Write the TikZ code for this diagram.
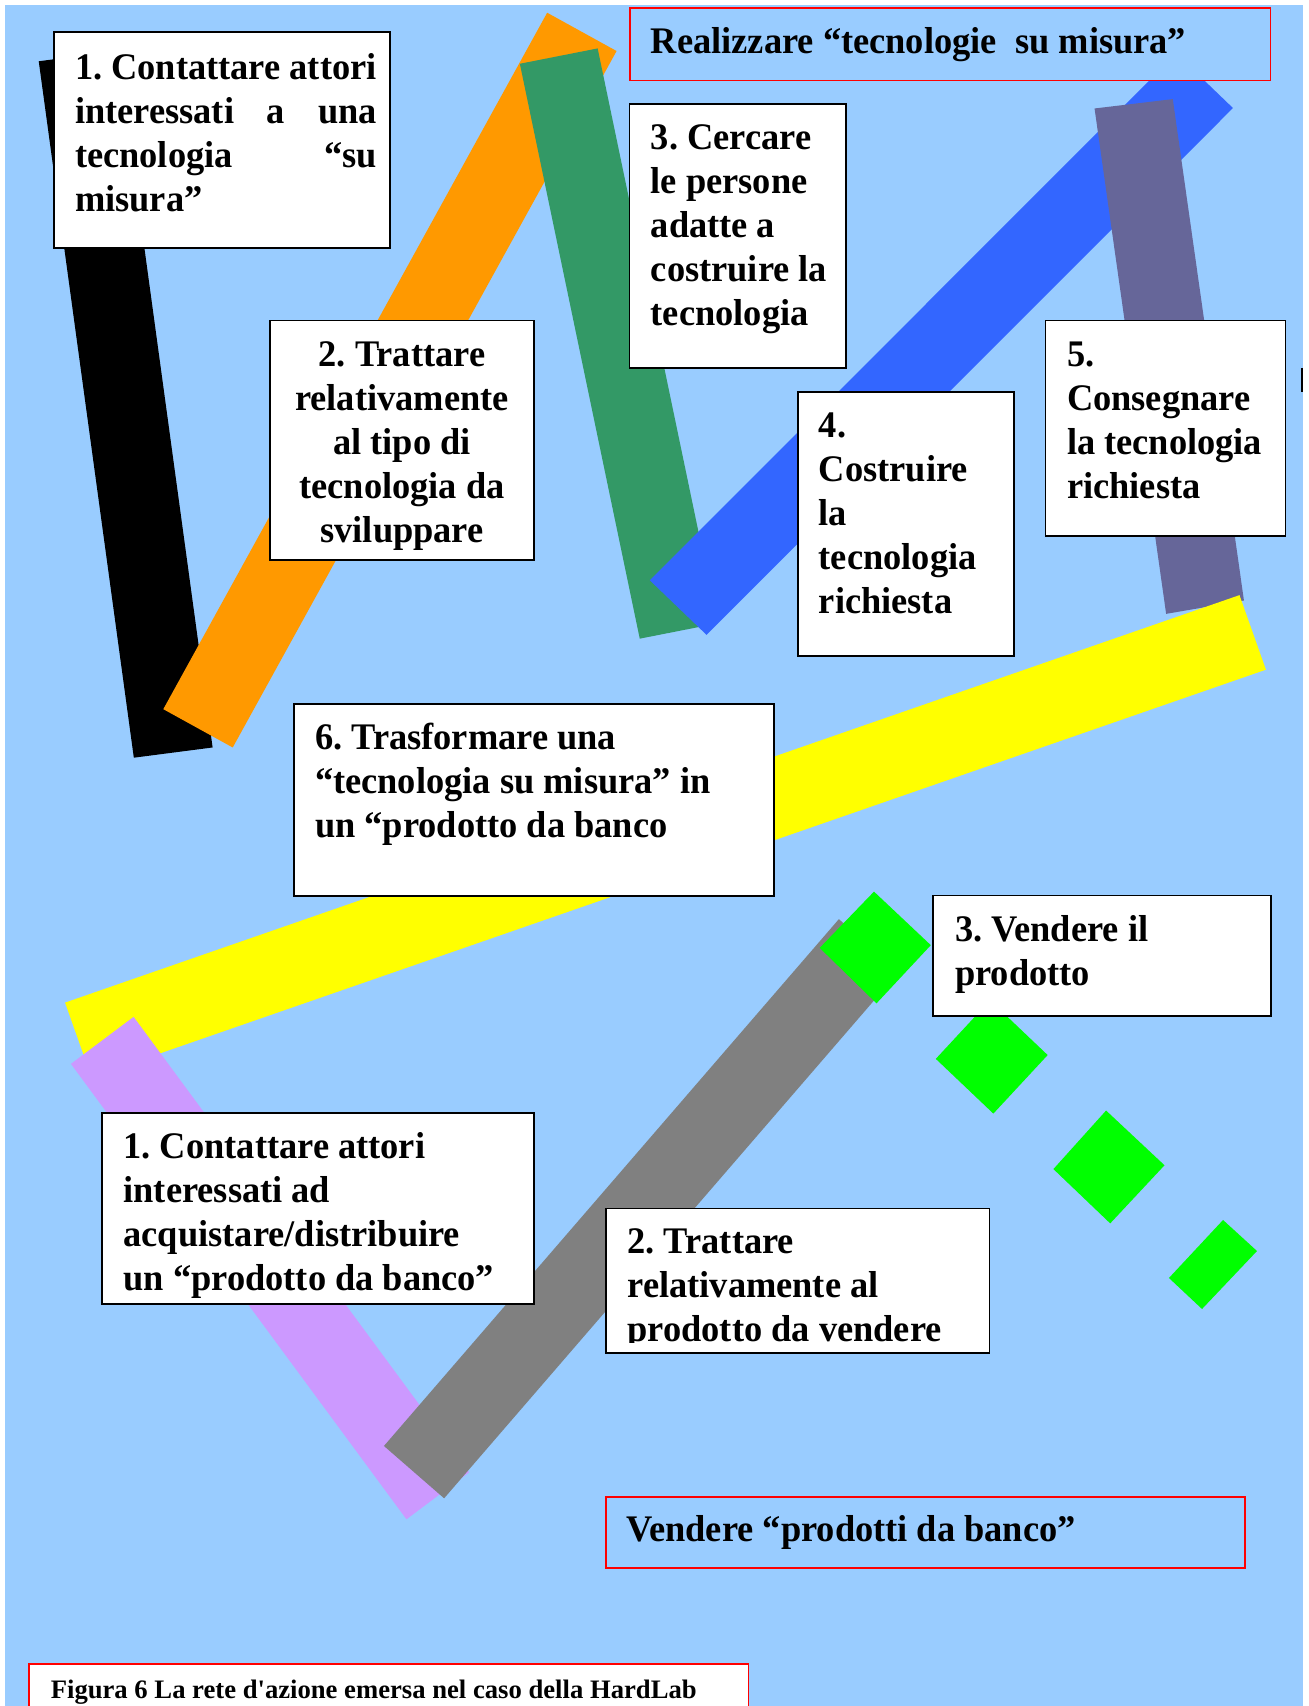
\documentclass[tikz,border=0pt]{standalone}
\usepackage{fontspec}
\setmainfont{Liberation Serif}
\newfontfamily\boxfam{Liberation Serif}[FakeStretch=0.97]
\font\capf="Liberation Serif/B" at 24.5pt
\definecolor{bgblue}{HTML}{99CCFF}
\definecolor{cblack}{HTML}{000000}
\definecolor{corange}{HTML}{FF9900}
\definecolor{cgreen}{HTML}{339966}
\definecolor{cblue}{HTML}{3366FF}
\definecolor{cslate}{HTML}{666699}
\definecolor{cyellow}{HTML}{FFFF00}
\definecolor{clilac}{HTML}{CC99FF}
\definecolor{cgray}{HTML}{808080}
\definecolor{clime}{HTML}{00FF00}
\definecolor{cred}{HTML}{FF0000}
\newcommand\lns[2][l]{\begin{tabular}[t]{@{}#1@{}}#2\end{tabular}}
\newlength\jw
\newcommand\js[1]{\makebox[\jw][s]{#1}}
\frenchspacing
\begin{document}
\begin{tikzpicture}[x=1pt,y=-1pt,
  wbox/.style={draw=black,line width=1.5pt,fill=white},
  rbox/.style={draw=cred,line width=1.6pt,fill=bgblue},
  capbox/.style={draw=cred,line width=1.6pt,fill=white},
  lbl/.style={inner sep=0pt,anchor=base west,font=\boxfam\bfseries\fontsize{34.5}{40.5}\selectfont\frenchspacing},
  caplbl/.style={inner sep=0pt,anchor=base west,font=\capf\frenchspacing},
]
\useasboundingbox (0,0) rectangle (1203,1568);
\clip (0,0) rectangle (1203,1568);
\fill[white] (0,0) rectangle (1203,1568);
\fill[bgblue] (5,5) rectangle (1197.5,1570);

% bars
\fill[cblack]  (35.6,56.3) -- (108,46.9) -- (195.4,687) -- (123,696.4) -- cycle;
\fill[corange] (150.1,651.8) -- (213.9,687) -- (566.7,46.9) -- (502.9,11.7) -- cycle;
\fill[cgreen]  (477.8,58.6) -- (549.3,44.5) -- (659.5,572.9) -- (588,587) -- cycle;
\fill[cblue]   (597.3,533.4) -- (649.4,583.5) -- (1133.2,99.3) -- (1081.1,49.2) -- cycle;
\fill[cslate]  (1006,99.7) -- (1077.9,91.1) -- (1143.3,551.9) -- (1071.8,564.2) -- cycle;
\fill[cyellow] (59.8,921.5) -- (1139.2,547) -- (1163.5,615.5) -- (84.1,990) -- cycle;
\fill[clilac]  (65.2,977.8) -- (122.8,934.6) -- (431.2,1353.2) -- (373.6,1396.4) -- cycle;
\fill[cgray]   (352.9,1329) -- (408.2,1377.1) -- (826.3,892.9) -- (771,844.8) -- cycle;

% green diamonds
\fill[clime] (803.3,819.5) -- (855.5,868.7) -- (805.6,922.2) -- (753.4,871.2) -- cycle;
\fill[clime] (910,919.4) -- (962.9,969.7) -- (913,1023.5) -- (860.1,973.2) -- cycle;
\fill[clime] (1016.6,1020.7) -- (1070.3,1071) -- (1020.4,1124.4) -- (968.2,1074.5) -- cycle;
\fill[clime] (1124.1,1121.3) -- (1155.3,1149.8) -- (1104.8,1203.1) -- (1074.4,1174.6) -- cycle;

% boxes
\draw[wbox] (49.5,29.5) rectangle (358.6,228);
\draw[wbox] (248,294.5) rectangle (491,514.8);
\draw[wbox] (578.7,95.6) rectangle (777.8,338.5);
\draw[rbox] (578.7,7.4) rectangle (1167.6,73.9);
\draw[wbox] (733.4,360.3) rectangle (932,603);
\draw[wbox] (961,294.6) rectangle (1181.6,492.4);
\draw[wbox] (270,647) rectangle (711.2,823.5);
\draw[wbox] (857.6,823.2) rectangle (1168,933.8);
\draw[wbox] (93.5,1022.7) rectangle (491,1198.7);
\draw[wbox] (557,1110.6) rectangle (909.3,1243.3);
\draw[rbox] (557,1375.6) rectangle (1144.5,1441);
\draw[capbox] (26.9,1529.6) rectangle (688,1600);

% small mark at right edge
\draw[line width=2pt] (1196.3,338) -- (1196.3,360);

% texts
\node[lbl] (t1) at (68.8,72.7) {\settowidth{\jw}{1. Contattare attori}\lns{1. Contattare attori\\ \js{interessati a una}\\ \js{tecnologia “su}\\ misura”}};
\node[lbl,anchor=base] (t2) at (369.5,336.6) {\lns[c]{2. Trattare\\ relativamente\\ al tipo di\\ tecnologia da\\ sviluppare}};
\node[lbl] (t3) at (598,137.5) {\lns{3. Cercare\\ le persone\\ adatte a\\ costruire la\\ tecnologia}};
\node[lbl] (h1) at (598,49) {Realizzare “tecnologie~ su misura”};
\node[lbl] (t4) at (752.4,402) {\lns{4.\\ Costruire\\ la\\ tecnologia\\ richiesta}};
\node[lbl] (t5) at (980.5,336.5) {\lns{5.\\ Consegnare\\ la tecnologia\\ richiesta}};
\node[lbl] (t6) at (289.4,689) {\lns{6. Trasformare una\\ “tecnologia su misura” in\\ un “prodotto da banco}};
\node[lbl] (v3) at (877.7,865.5) {\lns{3. Vendere il\\ prodotto}};
\node[lbl] (v1) at (113.4,1064.6) {\lns{1. Contattare attori\\ interessati ad\\ acquistare/distribuire\\ un “prodotto da banco”}};
\begin{scope}
\clip (557,1110.6) rectangle (909.3,1233.5);
\node[lbl] (v2) at (576.6,1152) {\lns{2. Trattare\\ relativamente al\\ prodotto da vendere}};
\end{scope}
\node[lbl] (h2) at (575.4,1417) {Vendere “prodotti da banco”};
\node[caplbl] (cap) at (46.5,1561) {Figura 6 La rete d'azione emersa nel caso della HardLab};
\end{tikzpicture}
\end{document}
